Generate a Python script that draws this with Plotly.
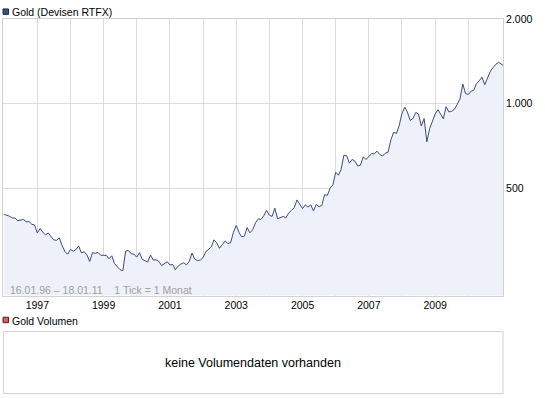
import math
import pandas as pd
import plotly.graph_objects as go

# ---- data (monthly closes, USD) ----
dates = list(pd.date_range("1996-01-01", "2010-12-01", freq="MS").strftime("%Y-%m-%d")) + ["2011-01-18"]
gold = [
    # 1996
    403.0, 400.7, 396.4, 391.3, 390.6, 382.0, 385.3, 386.5, 379.0, 379.5, 371.3, 369.3,
    # 1997
    345.5, 358.6, 348.2, 340.2, 345.6, 334.6, 326.4, 325.4, 332.1, 311.4, 296.8, 290.2,
    # 1998
    302.0, 297.4, 301.0, 310.7, 293.6, 296.3, 288.9, 273.4, 293.9, 292.3, 294.7, 287.8,
    # 1999
    287.1, 287.3, 279.5, 286.6, 268.6, 261.3, 255.6, 253.5, 298.0, 299.1, 291.4, 290.3,
    # 2000
    283.3, 293.7, 278.4, 275.2, 272.3, 288.2, 276.8, 277.0, 273.7, 264.5, 269.1, 272.7,
    # 2001
    265.6, 266.7, 255.5, 263.2, 267.5, 270.6, 265.9, 273.0, 293.1, 278.8, 275.5, 276.5,
    # 2002
    282.3, 296.9, 301.4, 308.2, 326.6, 318.5, 304.7, 312.8, 323.7, 316.9, 319.1, 347.2,
    # 2003
    367.5, 347.5, 334.9, 336.8, 361.4, 346.0, 354.8, 375.6, 388.0, 386.3, 398.4, 416.3,
    # 2004
    399.8, 395.9, 423.7, 388.5, 393.3, 395.8, 391.4, 407.3, 415.7, 425.6, 453.4, 435.6,
    # 2005
    422.2, 435.5, 427.5, 435.7, 414.5, 437.1, 429.0, 433.3, 473.3, 470.8, 500.0, 513.0,
    # 2006
    568.8, 556.0, 582.0, 654.5, 653.0, 613.5, 632.5, 623.5, 599.3, 603.8, 646.7, 632.0,
    # 2007
    650.5, 664.2, 661.8, 677.0, 659.1, 650.5, 665.5, 672.0, 743.0, 789.5, 783.5, 833.8,
    # 2008
    923.3, 971.5, 933.5, 871.0, 885.8, 930.3, 918.0, 833.0, 884.5, 730.8, 814.5, 869.8,
    # 2009
    919.5, 952.0, 916.5, 883.3, 975.5, 934.5, 939.0, 955.5, 995.8, 1040.0, 1175.8, 1087.5,
    # 2010
    1078.5, 1108.3, 1115.5, 1179.3, 1207.5, 1244.0, 1169.0, 1246.0, 1307.0, 1346.8, 1383.5, 1405.5,
    # 2011
    1370.0,
]

year_ticks = [f"{y}-01-01" for y in range(1997, 2011)]
year_labels = [str(y) if y % 2 == 1 else "" for y in range(1997, 2011)]
price_ticks = [500, 1000, 2000]
price_labels = ["500", "1.000", "2.000"]

title_main = "Gold (Devisen RTFX)"
title_vol = "Gold Volumen"
info_text = "16.01.96 \u2013 18.01.11\u00a0\u00a0\u00a0 1 Tick = 1 Monat"
no_vol_text = "keine Volumendaten vorhanden"

# ---- layout helpers (pixel -> paper) ----
W, H = 545, 398
def px(x):
    return x / W
def py(y):
    return 1 - y / H

FONT = "Liberation Sans, Arial, sans-serif"
GRID = "#dcdcdc"
BORDER = "#d2d2d2"

fig = go.Figure()
fig.add_trace(go.Scatter(
    x=dates, y=gold, mode="lines",
    line=dict(color="#3b4a7c", width=1),
    fill="tozeroy", fillcolor="#eef1fa",
    hoverinfo="skip", showlegend=False,
))

fig.update_layout(
    width=W, height=H,
    margin=dict(l=0, r=0, t=0, b=0),
    paper_bgcolor="white", plot_bgcolor="white",
    font=dict(family=FONT, size=10.5, color="black"),
    xaxis=dict(
        type="date",
        range=["1995-12-20", "2011-01-18"],
        domain=[px(3), px(503)],
        tickvals=year_ticks, ticktext=year_labels,
        showgrid=True, gridcolor=GRID, gridwidth=1,
        showline=True, linecolor=BORDER, linewidth=1, mirror=True,
        ticks="", zeroline=False,
        tickfont=dict(size=10.5, color="black"),
    ),
    yaxis=dict(
        type="log",
        range=[math.log10(206.6), math.log10(2004)],
        domain=[py(294), py(13.3)],
        side="right",
        tickvals=price_ticks, ticktext=price_labels,
        showgrid=True, gridcolor=GRID, gridwidth=1,
        showline=True, linecolor=BORDER, linewidth=1, mirror=True,
        ticks="", zeroline=False,
        tickfont=dict(size=10.5, color="black"),
    ),
)

shapes = [
    # legend squares
    dict(type="rect", xref="paper", yref="paper",
         x0=px(3), x1=px(8.5), y0=py(8.5), y1=py(3),
         fillcolor="#3e5080", line=dict(color="#1c2648", width=1)),
    dict(type="rect", xref="paper", yref="paper",
         x0=px(3), x1=px(8.5), y0=py(321.5), y1=py(316),
         fillcolor="#d9605c", line=dict(color="#5a2020", width=1)),
    # volume panel box
    dict(type="rect", xref="paper", yref="paper",
         x0=px(3.5), x1=px(503), y0=py(393.5), y1=py(330.5),
         fillcolor="white", line=dict(color=BORDER, width=1)),
]
fig.update_layout(shapes=shapes)

annotations = [
    dict(text=title_main, x=px(10), y=py(6.3), xref="paper", yref="paper",
         xanchor="left", yanchor="middle", showarrow=False,
         font=dict(size=10.5, color="black")),
    dict(text=title_vol, x=px(10), y=py(319.5), xref="paper", yref="paper",
         xanchor="left", yanchor="middle", showarrow=False,
         font=dict(size=10.5, color="black")),
    dict(text=info_text, x=px(8), y=py(288.5), xref="paper", yref="paper",
         xanchor="left", yanchor="middle", showarrow=False,
         font=dict(size=10.5, color="#a0a0a0")),
    dict(text=no_vol_text, x=px(253), y=py(362), xref="paper", yref="paper",
         xanchor="center", yanchor="middle", showarrow=False,
         font=dict(size=12.5, color="black")),
]
fig.update_layout(annotations=annotations)

fig.write_html(
    "out.html",
    config={"displayModeBar": False},
    post_script="document.body.style.margin='0';document.body.style.padding='0';document.body.style.overflow='hidden';",
)
